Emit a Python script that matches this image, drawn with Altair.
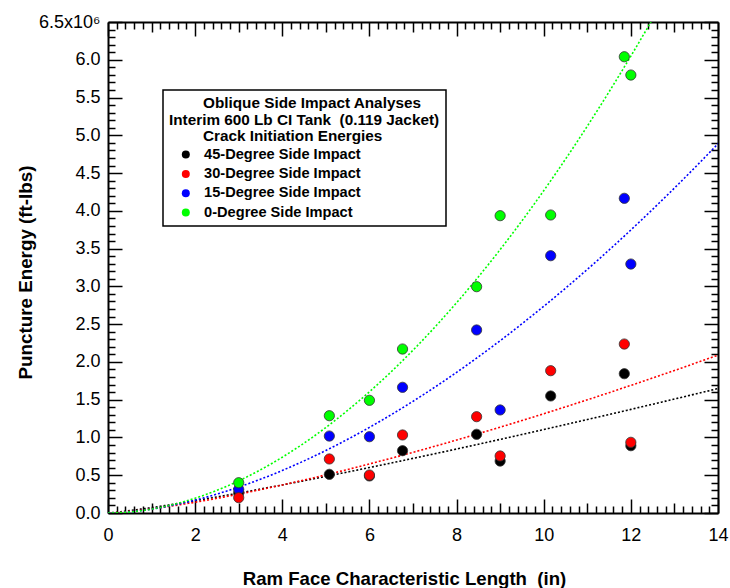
import altair as alt
import numpy as np
import pandas as pd

FONT = "Liberation Sans"
NB = "\u00a0"
ZW = "\u200b"

# ---- data ----
ram_length = [3.0, 5.08, 6.0, 6.76, 8.46, 9.0, 10.16, 11.85, 12.0]
energy_45 = [265000, 512000, 490000, 825000, 1042000, 688000, 1549000, 1844000, 891000]
energy_30 = [203000, 715000, 503000, 1033000, 1275000, 755000, 1884000, 2237000, 936000]
energy_15 = [314000, 1019000, 1010000, 1664000, 2423000, 1364000, 3406000, 4166000, 3296000]
energy_0 = [401000, 1288000, 1492000, 2171000, 2996000, 3936000, 3945000, 6040000, 5798000]

series_names = ["45-Degree Side Impact", "30-Degree Side Impact",
                "15-Degree Side Impact", "0-Degree Side Impact"]
fit_names = ["45 fit", "30 fit", "15 fit", "0 fit"]
series_colors = ["#000000", "#ff0000", "#0000ff", "#00ff00"]
series_values = [energy_45, energy_30, energy_15, energy_0]

legend_title = [ZW + NB * 8 + "Oblique Side Impact Analyses",
                "Interim 600 Lb CI Tank" + NB + " (0.119 Jacket)",
                ZW + NB * 8 + "Crack Initiation Energies"]
x_title = "Ram Face Characteristic Length" + NB + " (in)"
y_title = "Puncture Energy (ft-lbs)"

x_tick_values = [round(i * 0.2, 1) for i in range(71)]
y_tick_values = [i * 100000 for i in range(66)]


# ---- power-law trend fits y = a * x^b (least squares in log-log space) ----
def power_fit(xs, ys):
    lx = np.log(np.asarray(xs, dtype=float))
    ly = np.log(np.asarray(ys, dtype=float))
    b, ln_a = np.polyfit(lx, ly, 1)
    return float(np.exp(ln_a)), float(b)


xgrid = np.linspace(0, 14, 281)
line_rows = []
for name, vals in zip(fit_names, series_values):
    a, b = power_fit(ram_length, vals)
    for xv in xgrid:
        line_rows.append({"x": float(xv), "y": float(a * xv ** b), "fit": name})
lines_df = pd.DataFrame(line_rows)

point_rows = []
draw_order = [0, 2, 1, 3]
for i in draw_order:
    for xv, yv in zip(ram_length, series_values[i]):
        point_rows.append({"x": xv, "y": yv, "series": series_names[i]})
points_df = pd.DataFrame(point_rows)

# ---- scales / axes ----
xscale = alt.Scale(domain=[0, 14], nice=False, zero=False)
yscale = alt.Scale(domain=[0, 6500000], nice=False, zero=False)
cscale = alt.Scale(domain=series_names, range=series_colors)
fscale = alt.Scale(domain=fit_names, range=series_colors)

x_ticksize = {"condition": [{"test": "datum.value % 2 === 0", "value": -14},
                            {"test": "datum.value % 1 === 0", "value": -10}],
              "value": -7}
y_ticksize = {"condition": {"test": "datum.value % 500000 === 0", "value": -14},
              "value": -7}

common = dict(grid=False, domainColor="black", domainWidth=2, tickColor="black",
              tickWidth=1.5, labelOverlap=False, labelFlush=False, labelBound=False)

ax_bottom = alt.Axis(orient="bottom", values=x_tick_values, tickSize=x_ticksize,
                     labelExpr="datum.value % 2 === 0 ? format(datum.value, 'd') : ''",
                     labelPadding=27, labelFont=FONT, labelFontSize=18, labelColor="black",
                     title=x_title, titleFont=FONT, titleFontSize=18.6, titleFontWeight="bold",
                     titleColor="black", titleX=296, titleY=65, titleBaseline="middle",
                     titleAlign="center", **common)
ax_left = alt.Axis(orient="left", values=y_tick_values, tickSize=y_ticksize,
                   labelExpr="datum.value === 6500000 ? '6.5x10\u2076' : (datum.value % 500000 === 0 ? format(datum.value / 1000000, '.1f') : '')",
                   labelPadding=22, labelFont=FONT, labelFontSize=18, labelColor="black",
                   title=y_title, titleFont=FONT, titleFontSize=18.8, titleFontWeight="bold",
                   titleColor="black", titleX=-83, titleY=250, titleBaseline="middle",
                   titleAlign="center", titleAngle=270, **common)
ax_top = alt.Axis(orient="top", values=x_tick_values, tickSize=x_ticksize,
                  labels=False, title=None, **common)
ax_right = alt.Axis(orient="right", values=y_tick_values, tickSize=y_ticksize,
                    labels=False, title=None, **common)

lines = alt.Chart(lines_df).mark_line(clip=True, strokeWidth=1.6, strokeDash=[2, 2]).encode(
    x=alt.X("x:Q", scale=xscale, axis=ax_bottom),
    y=alt.Y("y:Q", scale=yscale, axis=ax_left),
    stroke=alt.Stroke("fit:N", scale=fscale, legend=None),
    detail="fit:N",
)

points = alt.Chart(points_df).mark_point(
    shape="circle", filled=True, size=105, stroke="#333333", strokeWidth=0.8, opacity=1
).encode(
    x=alt.X("x:Q", scale=xscale, axis=ax_top),
    y=alt.Y("y:Q", scale=yscale, axis=ax_right),
    fill=alt.Fill("series:N", scale=cscale, legend=alt.Legend(
        orient="none", legendX=55, legendY=68, title=legend_title,
        titleAlign="left", titleAnchor="start", titleFont=FONT, titleFontSize=15.3,
        titleFontWeight="bold", titleColor="black", titleLineHeight=16.5, titlePadding=3,
        titleLimit=600, labelLimit=600,
        labelFont=FONT, labelFontSize=14.6, labelFontWeight="bold", labelColor="black",
        symbolType="circle", symbolSize=64, symbolStrokeWidth=0, symbolOffset=9.5,
        labelOffset=11, padding=6, rowPadding=4.3, strokeColor="black", fillColor="white")),
)

chart = alt.layer(lines, points).resolve_axis(
    x="independent", y="independent"
).properties(
    width=610, height=491,
    autosize=alt.AutoSizeParams(type="none"),
    padding={"left": 108, "top": 22, "right": 12, "bottom": 75},
    background="white",
).configure_view(stroke=None).configure_legend(strokeWidth=1.5)

chart.save("out.html", embed_options={"renderer": "svg", "actions": False})
